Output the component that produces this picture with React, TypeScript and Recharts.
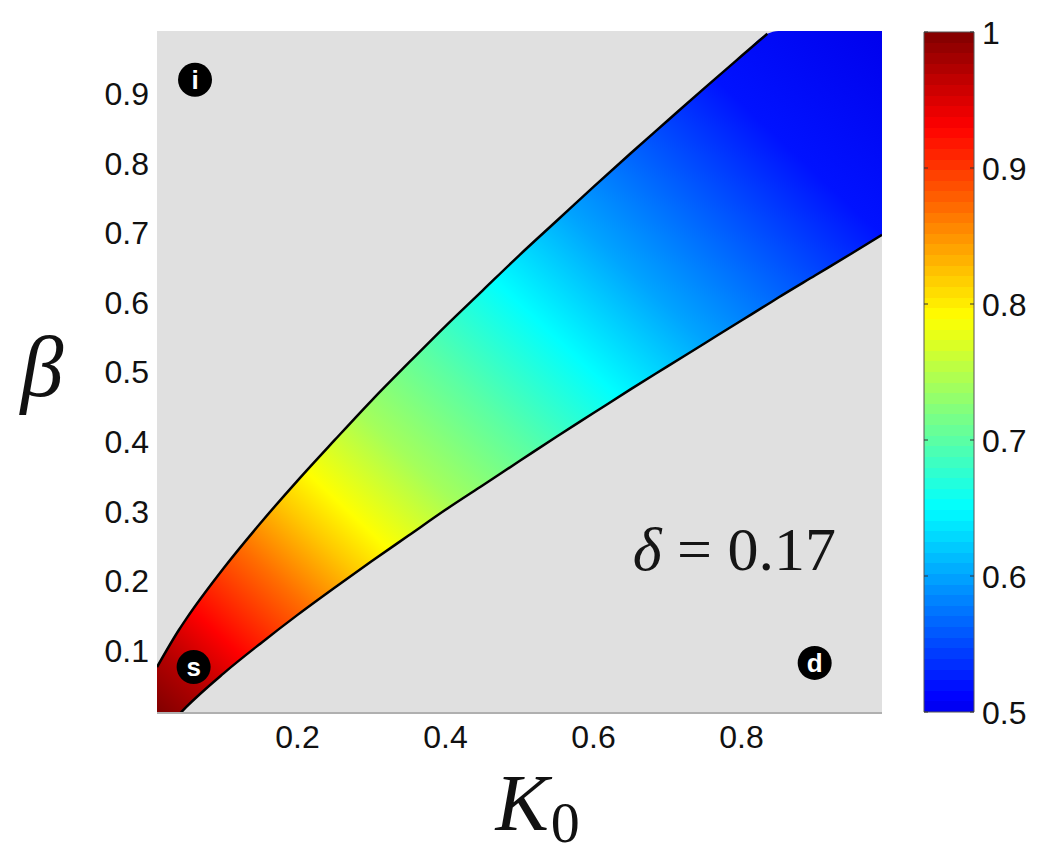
import React from "react";
import {
  ComposedChart,
  Area,
  Line,
  Scatter,
  XAxis,
  YAxis,
  ReferenceArea,
  ReferenceDot,
  BarChart,
  Bar,
} from "recharts";

// stations along K0 and the two boundary curves
const K0 = [
  0.01, 0.04, 0.05, 0.1, 0.15, 0.2, 0.25, 0.3, 0.35, 0.4, 0.45, 0.5, 0.55,
  0.6, 0.65, 0.7, 0.75, 0.8, 0.835, 0.85, 0.9, 0.95, 0.99,
];
const BETA_UPPER = [
  0.076, 0.13, 0.146, 0.218, 0.283, 0.344, 0.402, 0.459, 0.513, 0.566, 0.617,
  0.668, 0.717, 0.766, 0.814, 0.861, 0.908, 0.954, 0.986, null, null, null,
  null,
];
const BETA_LOWER = [
  null, 0.008, 0.019, 0.067, 0.11, 0.151, 0.19, 0.228, 0.265, 0.302, 0.337,
  0.372, 0.407, 0.441, 0.475, 0.508, 0.541, 0.574, 0.597, 0.607, 0.639, 0.671,
  0.697,
];

// colour along the band (0 = bottom-left corner, 1 = top-right corner)
const BAND_POS = [0, 0.05, 0.1, 0.18, 0.24, 0.28, 0.36, 0.45, 0.55, 0.65, 0.75, 0.85, 1];
const BAND_VALUE = [1.0, 0.97, 0.93, 0.87, 0.82, 0.79, 0.74, 0.7, 0.65, 0.6, 0.56, 0.52, 0.5];

const X_TICKS = [0.2, 0.4, 0.6, 0.8];
const Y_TICKS = [0.1, 0.2, 0.3, 0.4, 0.5, 0.6, 0.7, 0.8, 0.9];
const CB_TICKS = [0.5, 0.6, 0.7, 0.8, 0.9, 1];

const MARKERS = [
  { k: 0.0614, b: 0.92, label: "i" },
  { k: 0.0595, b: 0.076, label: "s" },
  { k: 0.899, b: 0.082, label: "d" },
];

const X_DOMAIN: [number, number] = [0.01, 0.99];
const Y_DOMAIN: [number, number] = [0.01, 0.99];

// jet colormap stretched over [0.44, 1]
function jet(v: number): string {
  const t = (v - 0.44) / 0.56;
  const c = (x: number) => Math.round(255 * Math.max(0, Math.min(1, x)));
  const r = c(1.5 - Math.abs(4 * t - 3));
  const g = c(1.5 - Math.abs(4 * t - 2));
  const b = c(1.5 - Math.abs(4 * t - 1));
  return `rgb(${r},${g},${b})`;
}

const rows = K0.map((k, i) => ({
  k,
  upper: BETA_UPPER[i],
  lower: BETA_LOWER[i],
  band: [
    Math.max(BETA_LOWER[i] ?? Y_DOMAIN[0], Y_DOMAIN[0]),
    Math.min(BETA_UPPER[i] ?? Y_DOMAIN[1], Y_DOMAIN[1]),
  ],
}));

const tickFont = {
  fill: "#111",
  fontSize: 32,
  fontFamily: "'Liberation Sans', Arial, sans-serif",
};

function Marker(props: any) {
  const { cx, cy, payload } = props;
  return (
    <g>
      <circle cx={cx} cy={cy} r={17} fill="#000" />
      <text
        x={cx}
        y={cy}
        dy="0.36em"
        textAnchor="middle"
        fill="#fff"
        fontSize={26}
        fontWeight="bold"
        fontFamily="'Liberation Sans', Arial, sans-serif"
      >
        {payload.label}
      </text>
    </g>
  );
}

function CbTick(props: any) {
  const { x, y, payload } = props;
  const right = x - 8;
  const left = right - 50;
  return (
    <g>
      <line x1={left} x2={left + 4} y1={y} y2={y} stroke="#333" />
      <line x1={right - 4} x2={right} y1={y} y2={y} stroke="#333" />
      <text x={x} y={y} dy="0.36em" textAnchor="start" {...tickFont}>
        {payload.value}
      </text>
    </g>
  );
}

export default function App() {
  const cbSteps = Array.from({ length: 64 }, (_, i) => i);
  return (
    <div style={{ position: "absolute", left: 0, top: 0, width: 1050, height: 859, background: "#fff" }}>
      <div style={{ position: "absolute", left: 0, top: 0 }}>
        <ComposedChart
          width={900}
          height={859}
          data={rows}
          margin={{ top: 31, right: 18, bottom: 86, left: 97 }}
        >
          <defs>
            <linearGradient id="bandGrad" x1="0" y1="1" x2="1" y2="0">
              {BAND_POS.map((p, i) => (
                <stop key={i} offset={p} stopColor={jet(BAND_VALUE[i])} />
              ))}
            </linearGradient>
          </defs>
          <XAxis
            dataKey="k"
            type="number"
            domain={X_DOMAIN}
            ticks={X_TICKS}
            allowDataOverflow
            height={60}
            tickSize={0}
            tickMargin={12}
            axisLine={{ stroke: "#b0b0b0", strokeWidth: 2 }}
            tick={tickFont}
            label={{
              content: ({ viewBox }: any) => (
                <text
                  x={viewBox.x + viewBox.width / 2 - 24}
                  y={viewBox.y + 117}
                  fill="#111"
                  fontFamily="'Liberation Serif', 'Times New Roman', serif"
                >
                  <tspan fontStyle="italic" fontSize={80}>K</tspan>
                  <tspan fontSize={58} dx={2} dy={12}>0</tspan>
                </text>
              ),
            }}
          />
          <YAxis
            type="number"
            domain={Y_DOMAIN}
            ticks={Y_TICKS}
            allowDataOverflow
            width={60}
            tickSize={0}
            tickMargin={8}
            axisLine={false}
            tick={tickFont}
            label={{
              content: ({ viewBox }: any) => (
                <text
                  x={viewBox.x - 55}
                  y={viewBox.y + 365}
                  textAnchor="middle"
                  fill="#111"
                  fontSize={86}
                  fontStyle="italic"
                  fontFamily="'Liberation Serif', 'Times New Roman', serif"
                >
                  β
                </text>
              ),
            }}
          />
          <ReferenceArea
            x1={X_DOMAIN[0]}
            x2={X_DOMAIN[1]}
            y1={Y_DOMAIN[0]}
            y2={Y_DOMAIN[1]}
            fill="#e0e0e0"
            fillOpacity={1}
            stroke="none"
          />
          <Area
            dataKey="band"
            type="monotone"
            fill="url(#bandGrad)"
            fillOpacity={1}
            stroke="none"
            isAnimationActive={false}
          />
          <Line
            dataKey="upper"
            type="monotone"
            stroke="#000"
            strokeWidth={2.5}
            dot={false}
            isAnimationActive={false}
          />
          <Line
            dataKey="lower"
            type="monotone"
            stroke="#000"
            strokeWidth={2.5}
            dot={false}
            isAnimationActive={false}
          />
          <Scatter
            data={MARKERS}
            dataKey="b"
            shape={<Marker />}
            isAnimationActive={false}
          />
          <ReferenceDot
            x={0.653}
            y={0.215}
            r={0}
            label={{
              content: ({ viewBox }: any) => (
                <text
                  x={viewBox.x}
                  y={viewBox.y}
                  fill="#151515"
                  fontSize={62}
                  fontFamily="'Liberation Serif', 'Times New Roman', serif"
                >
                  <tspan fontStyle="italic">δ</tspan>
                  <tspan> = 0.17</tspan>
                </text>
              ),
            }}
          />
        </ComposedChart>
      </div>
      <div style={{ position: "absolute", left: 870, top: 0 }}>
        <BarChart
          width={180}
          height={759}
          data={[{ name: "cb", v: [0.5, 1] }]}
          margin={{ top: 32, right: 16, bottom: 47, left: 54 }}
          barCategoryGap={0}
        >
          <defs>
            <linearGradient id="cbGrad" x1="0" y1="1" x2="0" y2="0">
              {cbSteps.flatMap((i) => [
                <stop key={`a${i}`} offset={i / 64} stopColor={jet(0.5 + ((i + 0.5) / 64) * 0.5)} />,
                <stop key={`b${i}`} offset={(i + 1) / 64} stopColor={jet(0.5 + ((i + 0.5) / 64) * 0.5)} />,
              ])}
            </linearGradient>
          </defs>
          <XAxis dataKey="name" hide />
          <YAxis
            orientation="right"
            type="number"
            domain={[0.5, 1]}
            ticks={CB_TICKS}
            width={60}
            tickSize={0}
            tickMargin={8}
            axisLine={false}
            tick={<CbTick />}
          />
          <Bar
            dataKey="v"
            fill="url(#cbGrad)"
            stroke="#555"
            strokeWidth={1}
            isAnimationActive={false}
          />
        </BarChart>
      </div>
    </div>
  );
}
